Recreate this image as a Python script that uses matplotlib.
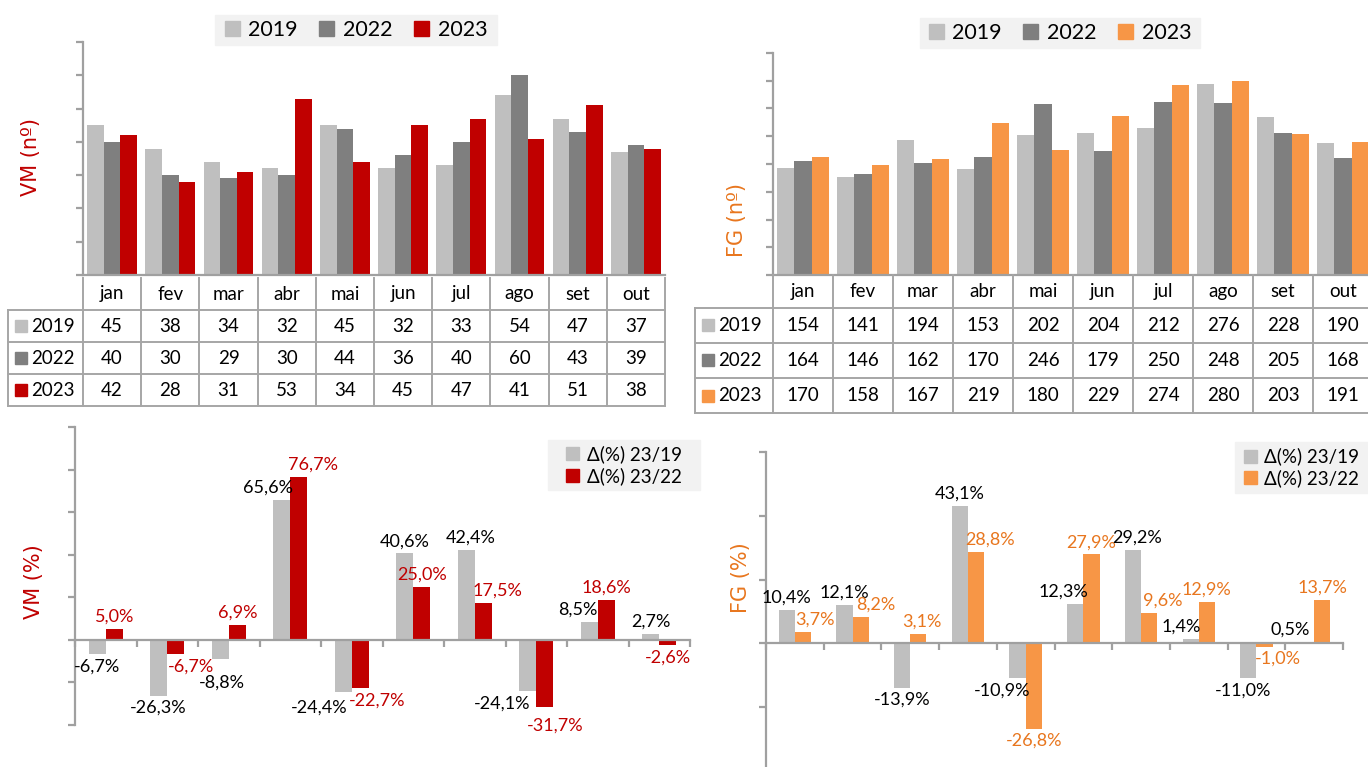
import matplotlib
matplotlib.use('Agg')
import matplotlib.pyplot as plt
from matplotlib.lines import Line2D
from matplotlib.patches import Patch, Rectangle

plt.rcParams['font.family'] = ['Lato', 'DejaVu Sans']

W, H = 1368, 767

months = ['jan', 'fev', 'mar', 'abr', 'mai', 'jun', 'jul', 'ago', 'set', 'out']
years = ['2019', '2022', '2023']

vm_2019 = [45, 38, 34, 32, 45, 32, 33, 54, 47, 37]
vm_2022 = [40, 30, 29, 30, 44, 36, 40, 60, 43, 39]
vm_2023 = [42, 28, 31, 53, 34, 45, 47, 41, 51, 38]

fg_2019 = [154, 141, 194, 153, 202, 204, 212, 276, 228, 190]
fg_2022 = [164, 146, 162, 170, 246, 179, 250, 248, 205, 168]
fg_2023 = [170, 158, 167, 219, 180, 229, 274, 280, 203, 191]

vm_d19 = [-6.7, -26.3, -8.8, 65.6, -24.4, 40.6, 42.4, -24.1, 8.5, 2.7]
vm_d22 = [5.0, -6.7, 6.9, 76.7, -22.7, 25.0, 17.5, -31.7, 18.6, -2.6]
fg_d19 = [10.4, 12.1, -13.9, 43.1, -10.9, 12.3, 29.2, 1.4, -11.0, 0.5]
fg_d22 = [3.7, 8.2, 3.1, 28.8, -26.8, 27.9, 9.6, 12.9, -1.0, 13.7]

delta_labels = ['\u0394(%) 23/19', '\u0394(%) 23/22']

# nudges of the data labels (pixels, x right / y down), as placed in the original
vm_dx19 = [0, 0, 2, -14, -24, 0, 5, -26, -11, 0]
vm_dy19 = [0, 0, 12, 0, 4, 0, 0, 0, 0, 0]
vm_dx22 = [0, 15, 0, 14, 17, 0, 14, 10, 0, 0]
vm_dy22 = [0, 0, 0, 0, 0, 0, 0, 6, 0, 0]
fg_dx19 = [0, 0, 0, 0, -15, -12, 4, -9, -5, -16]
fg_dy19 = [0, 0, 0, 0, 0, 0, 0, 0, 0, 0]
fg_dx22 = [12, 15, 4, 14, 0, 0, 14, 0, 13, 0]
fg_dy22 = [0, 0, 0, 0, 0, 0, 0, 0, 0, 0]

LIGHT = '#bfbfbf'
DARK = '#7f7f7f'
RED = '#c00000'
ORANGE = '#f79646'
ORANGE_TXT = '#e8761e'
AXC = '#a0a0a0'
LEGBG = '#f2f2f2'
TITLE_FONT = ['DejaVu Sans']


def rect(x0, y0, x1, y1):
    return [x0 / W, 1 - y1 / H, (x1 - x0) / W, (y1 - y0) / H]


def fx(x):
    return x / W


def fy(y):
    return 1 - y / H


fig = plt.figure(figsize=(W / 100, H / 100), dpi=100)


def style_axes(ax, zero_axis=False):
    for s in ['top', 'right']:
        ax.spines[s].set_visible(False)
    ax.spines['left'].set_color(AXC)
    ax.spines['left'].set_linewidth(1.6)
    ax.spines['bottom'].set_color(AXC)
    ax.spines['bottom'].set_linewidth(1.6)
    ax.tick_params(axis='y', length=5, width=1.6, color=AXC, labelleft=False)
    ax.set_xlim(-0.5, len(months) - 0.5)
    if zero_axis:
        ax.spines['bottom'].set_position(('data', 0))
        ax.set_xticks([i - 0.5 for i in range(len(months) + 1)])
        ax.tick_params(axis='x', length=5, width=1.6, color=AXC, labelbottom=False)
    else:
        ax.set_xticks([])
    ax.patch.set_alpha(0)


def bars3(ax, s1, s2, s3, col3):
    w = 0.285
    x = range(len(months))
    ax.bar([i - w for i in x], s1, w, color=LIGHT)
    ax.bar(list(x), s2, w, color=DARK)
    ax.bar([i + w for i in x], s3, w, color=col3)


def legend_box(x0, y0, x1, y1, handles, labels, ncol, fs):
    fig.patches.append(Rectangle((fx(x0), fy(y1)), fx(x1 - x0), (y1 - y0) / H,
                                 transform=fig.transFigure, color=LEGBG, zorder=0))
    fig.legend(handles, labels, ncol=ncol, loc='center',
               bbox_to_anchor=(fx((x0 + x1) / 2), fy((y0 + y1) / 2)),
               frameon=False, fontsize=fs, handlelength=0.7, handleheight=0.7,
               handletextpad=0.4, columnspacing=1.0, labelspacing=0.2, borderpad=0.2)


def table(x0, col_w, hx0, y0, hdr_h, row_h, rows, colors):
    n = len(months)
    x_end = x0 + n * col_w
    lc = '#a6a6a6'

    def line(xa, ya, xb, yb):
        fig.lines.append(Line2D([fx(xa), fx(xb)], [fy(ya), fy(yb)], transform=fig.transFigure,
                                color=lc, lw=1.4))
    for i, m in enumerate(months):
        fig.text(fx(x0 + (i + 0.5) * col_w), fy(y0 + hdr_h / 2), m, ha='center', va='center',
                 fontsize=13.5)
    ytop = y0 + hdr_h
    ybot = ytop + row_h * len(rows)
    for i in range(n + 1):
        line(x0 + i * col_w, y0, x0 + i * col_w, ybot)
    line(hx0, ytop, hx0, ybot)
    for r in range(len(rows) + 1):
        line(hx0, ytop + r * row_h, x_end, ytop + r * row_h)
    for r, (yr, vals, c) in enumerate(zip(years, rows, colors)):
        yc = ytop + (r + 0.5) * row_h
        fig.patches.append(Rectangle((fx(hx0 + 7), fy(yc + 6)), fx(12), 12 / H,
                                     transform=fig.transFigure, color=c))
        fig.text(fx(hx0 + 23), fy(yc), yr, ha='left', va='center', fontsize=13.5)
        for i, v in enumerate(vals):
            fig.text(fx(x0 + (i + 0.5) * col_w), fy(yc), str(v), ha='center', va='center',
                     fontsize=13.5)


def pct(v):
    return f'{v:.1f}%'.replace('.', ',')


def delta_chart(ax, d19, d22, n19, n22, col, txtcol):
    w = 0.28
    x = range(len(months))
    ax.bar([i - w / 2 for i in x], d19, w, color=LIGHT)
    ax.bar([i + w / 2 for i in x], d22, w, color=col)
    for i in x:
        for v, off, nx, ny, c in [(d19[i], -w / 2, n19[0][i], n19[1][i], 'black'),
                                  (d22[i], w / 2, n22[0][i], n22[1][i], txtcol)]:
            base = 3 if v >= 0 else -3
            ax.annotate(pct(v), (i + off, v), xytext=(nx * 0.72, base - ny * 0.72),
                        textcoords='offset points', ha='center',
                        va='bottom' if v >= 0 else 'top', fontsize=13, color=c)


# ---- top left: VM counts
ax1 = fig.add_axes(rect(83, 42, 665, 275))
bars3(ax1, vm_2019, vm_2022, vm_2023, RED)
ax1.set_ylim(0, 70)
ax1.set_yticks(range(0, 71, 10))
style_axes(ax1)
fig.text(fx(31), fy(157), 'VM (n\u00ba)', rotation=90, ha='center', va='center',
         fontsize=15, color=RED, family=TITLE_FONT)
table(83, 58.2, 8, 278, 32, 32, [vm_2019, vm_2022, vm_2023], [LIGHT, DARK, RED])
legend_box(215, 15, 497, 45, [Patch(color=c) for c in [LIGHT, DARK, RED]], years, 3, 15.5)

# ---- top right: FG counts
ax2 = fig.add_axes(rect(773, 53, 1373, 275))
bars3(ax2, fg_2019, fg_2022, fg_2023, ORANGE)
ax2.set_ylim(0, 320)
ax2.set_yticks(range(0, 321, 40))
style_axes(ax2)
fig.text(fx(737), fy(220), 'FG (n\u00ba)', rotation=90, ha='center', va='center',
         fontsize=15, color=ORANGE_TXT, family=TITLE_FONT)
table(773, 60, 695, 275, 33, 35, [fg_2019, fg_2022, fg_2023], [LIGHT, DARK, ORANGE])
legend_box(920, 18, 1200, 48, [Patch(color=c) for c in [LIGHT, DARK, ORANGE]], years, 3, 15.5)

# ---- bottom left: VM deltas
ax3 = fig.add_axes(rect(75, 427, 690, 725))
delta_chart(ax3, vm_d19, vm_d22, (vm_dx19, vm_dy19), (vm_dx22, vm_dy22), RED, RED)
ax3.set_ylim(-40, 100)
ax3.set_yticks(range(-40, 101, 20))
style_axes(ax3, zero_axis=True)
fig.text(fx(34), fy(582), 'VM (%)', rotation=90, ha='center', va='center',
         fontsize=15, color=RED, family=TITLE_FONT)
legend_box(548, 440, 700, 490, [Patch(color=c) for c in [LIGHT, RED]], delta_labels, 1, 13.5)

# ---- bottom right: FG deltas
ax4 = fig.add_axes(rect(766, 452, 1343, 771))
delta_chart(ax4, fg_d19, fg_d22, (fg_dx19, fg_dy19), (fg_dx22, fg_dy22), ORANGE, ORANGE_TXT)
ax4.set_ylim(-40, 60)
ax4.set_yticks(range(-40, 61, 20))
style_axes(ax4, zero_axis=True)
fig.text(fx(741), fy(578), 'FG (%)', rotation=90, ha='center', va='center',
         fontsize=15, color=ORANGE_TXT, family=TITLE_FONT)
legend_box(1235, 442, 1368, 493, [Patch(color=c) for c in [LIGHT, ORANGE]], delta_labels, 1, 13.5)

fig.savefig('out.png', dpi=100)
